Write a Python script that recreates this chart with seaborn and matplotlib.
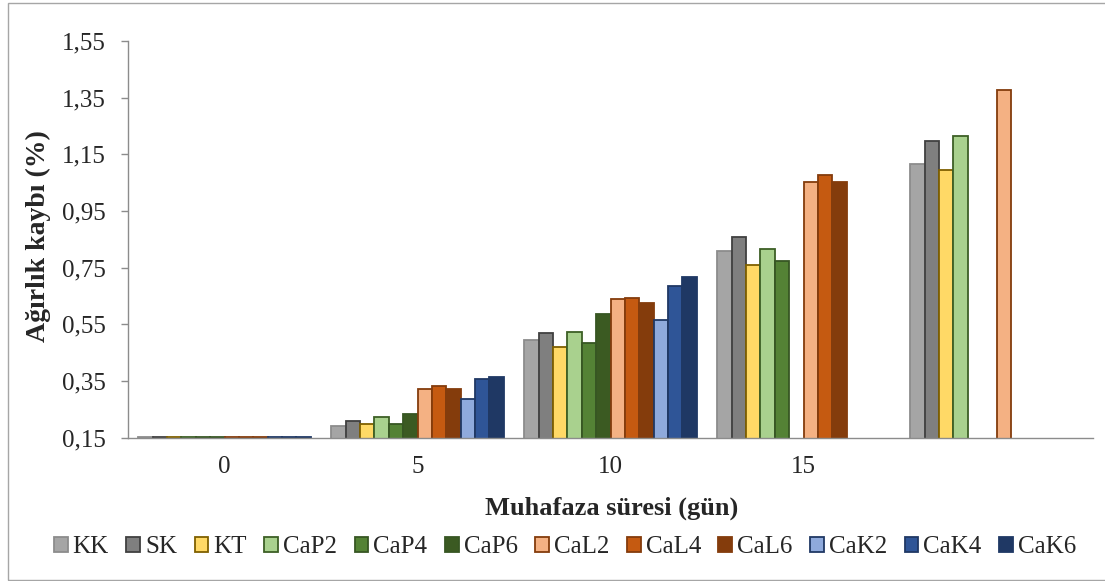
import numpy as np
import pandas as pd
import matplotlib
matplotlib.use("Agg")
import matplotlib.pyplot as plt
import matplotlib.patches as mpatches
import seaborn as sns

# storage days (last group has no label on the original chart)
days = ["0", "5", "10", "15", "20"]
day_labels = ["0", "5", "10", "15", ""]

treatments = ["KK", "SK", "KT", "CaP2", "CaP4", "CaP6",
              "CaL2", "CaL4", "CaL6", "CaK2", "CaK4", "CaK6"]

nan = np.nan
# weight loss (%) per treatment, one value per day
KK = [0.153, 0.190, 0.496, 0.810, 1.114]
SK = [0.153, 0.210, 0.520, 0.859, 1.196]
KT = [0.153, 0.198, 0.470, 0.758, 1.093]
CaP2 = [0.153, 0.222, 0.523, 0.817, 1.214]
CaP4 = [0.153, 0.198, 0.482, 0.772, nan]
CaP6 = [0.153, 0.233, 0.585, nan, nan]
CaL2 = [0.153, 0.323, 0.640, 1.053, 1.376]
CaL4 = [0.153, 0.331, 0.643, 1.077, nan]
CaL6 = [0.153, 0.320, 0.624, 1.052, nan]
CaK2 = [0.153, 0.286, 0.564, nan, nan]
CaK4 = [0.153, 0.355, 0.685, nan, nan]
CaK6 = [0.153, 0.362, 0.715, nan, nan]

series = [KK, SK, KT, CaP2, CaP4, CaP6, CaL2, CaL4, CaL6, CaK2, CaK4, CaK6]

fills = ["#a5a5a5", "#7f7f7f", "#ffd966", "#a9d18e", "#548235", "#3b5a22",
         "#f4b183", "#c55a11", "#843c0c", "#8faadc", "#2f5597", "#1f3864"]
edges = ["#8c8c8c", "#404040", "#7f6000", "#3d5f25", "#375623", "#375623",
         "#843c0c", "#843c0c", "#843c0c", "#203864", "#203864", "#1f3864"]

rows = []
for name, vals in zip(treatments, series):
    for d, v in zip(days, vals):
        rows.append({"Gün": d, "Grup": name, "Kayıp": v})
df = pd.DataFrame(rows)

sns.set_style("white")
plt.rcParams["font.family"] = ["Liberation Serif", "DejaVu Serif"]

fig = plt.figure(figsize=(11.05, 5.81), dpi=100)
ax = fig.add_axes([128 / 1105, (581 - 437.5) / 581, 965 / 1105, 396.5 / 581])

sns.barplot(data=df, x="Gün", y="Kayıp", hue="Grup", order=days,
            hue_order=treatments, palette=fills, width=0.895,
            saturation=1, errorbar=None, ax=ax, legend=False)

# per-series outline colours
for cont, ec in zip(ax.containers, edges):
    for bar in cont:
        bar.set_edgecolor(ec)
        bar.set_linewidth(1.3)

ax.set_ylim(0.15, 1.55)
ax.set_xlim(-0.5, 4.5)
yt = np.arange(0.15, 1.56, 0.2)
ax.set_yticks(yt)
ax.set_yticklabels([f"{v:.2f}".replace(".", ",") for v in yt], fontsize=18)
ax.set_xticks(range(5))
ax.set_xticklabels(day_labels, fontsize=18)
ax.set_xticks(np.arange(-0.5, 4.6, 1), minor=True)
ax.tick_params(axis="x", which="major", length=0, pad=13)
ax.tick_params(axis="x", which="minor", length=5, width=1, color="#8c8c8c", direction="out")
ax.tick_params(axis="y", length=5, width=1, color="#8c8c8c", direction="out", pad=11, left=True)
ax.set_xlabel("")
ax.set_ylabel("")

for s in ["top", "right"]:
    ax.spines[s].set_visible(False)
for s in ["left", "bottom"]:
    ax.spines[s].set_color("#8c8c8c")
    ax.spines[s].set_linewidth(1)

fig.text(38 / 1105, 1 - 236 / 581, "Ağırlık kaybı (%)", rotation=90,
         ha="center", va="center", fontsize=20, fontweight="bold")
fig.text(612 / 1105, 1 - 508 / 581, "Muhafaza süresi (gün)",
         ha="center", va="center", fontsize=19, fontweight="bold")

handles = [mpatches.Patch(facecolor=f, edgecolor=e, linewidth=1.3, label=t)
           for f, e, t in zip(fills, edges, treatments)]
fig.legend(handles=handles, loc="center", bbox_to_anchor=(565 / 1105, 1 - 547 / 581),
           ncol=12, frameon=False, fontsize=18, handlelength=0.55, handleheight=0.55,
           handletextpad=0.2, columnspacing=0.7, borderaxespad=0)

# thin chart-area border like the original
fig.patches.append(mpatches.Rectangle((8 / 1105, 1 / 581), 1.1, 1 - 4 / 581,
                                      transform=fig.transFigure, fill=False,
                                      edgecolor="#a6a6a6", linewidth=1))

fig.savefig("out.png", dpi=100)
